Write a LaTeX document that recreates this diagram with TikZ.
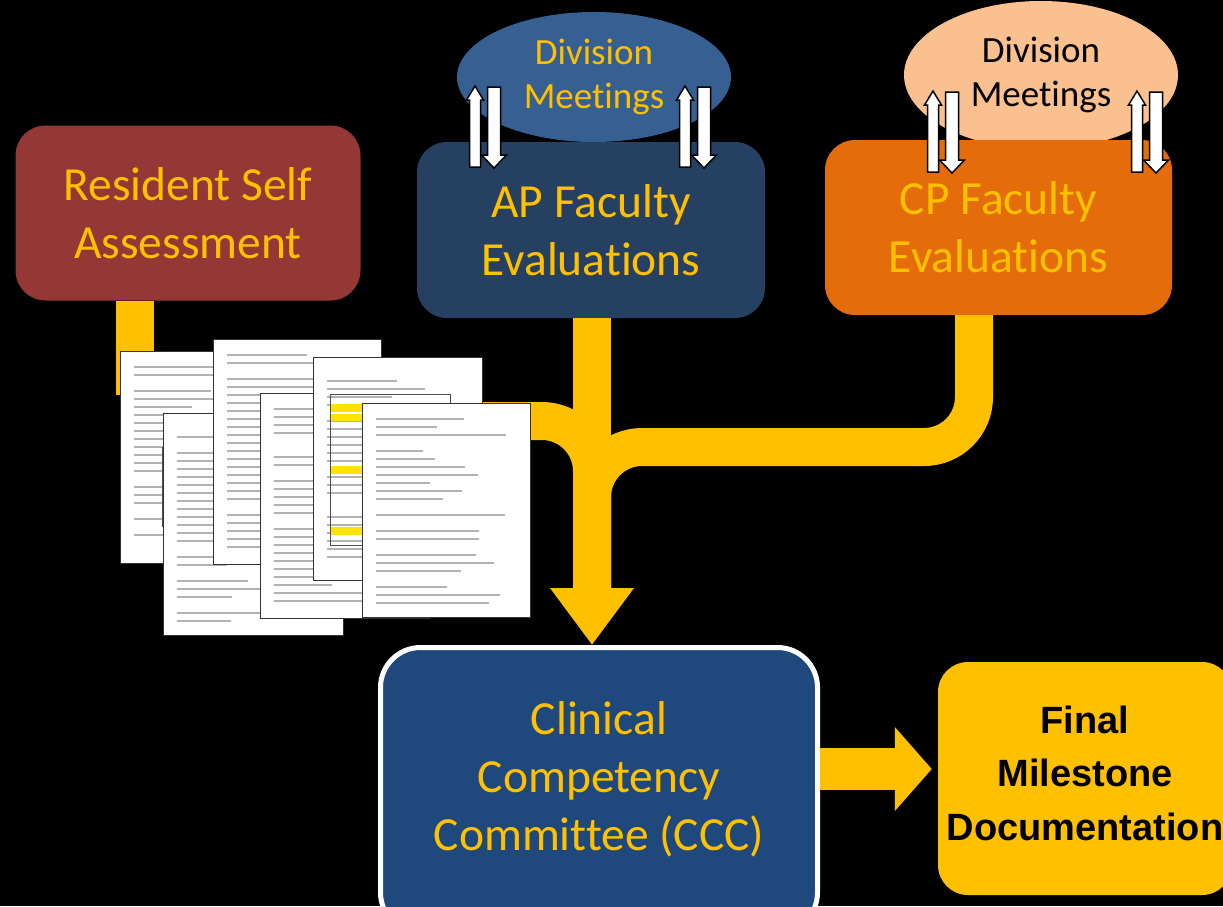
\documentclass[tikz,border=0pt]{standalone}
\usepackage{fontspec}
\setmainfont{Carlito}[Ligatures=NoCommon]
\newfontfamily\finalfont{Liberation Sans}
\usepackage{xcolor}
\usetikzlibrary{shapes,positioning,calc,arrows.meta}

\definecolor{resred}{RGB}{149,55,53}
\definecolor{apnavy}{RGB}{38,64,97}
\definecolor{apmeetblue}{RGB}{54,96,146}
\definecolor{cporange}{RGB}{228,108,10}
\definecolor{cppeach}{RGB}{250,192,144}
\definecolor{cccblue}{RGB}{31,73,125}
\definecolor{gold}{RGB}{255,192,0}

\begin{document}
\begin{tikzpicture}[x=1pt,y=-1pt]
\tikzset{
	box/.style={rounded corners=30pt, inner sep=0pt, align=center, text=gold,
		font=\fontsize{47.5}{58}\selectfont},
	meet/.style={ellipse, inner sep=0pt, align=center,
		font=\fontsize{37}{44}\selectfont},
	flow/.style={draw=gold, line width=38pt, rounded corners=50pt},
	updown/.style={fill=white, draw=black, line width=1.5pt},
	docline/.style={draw=gray!60, line width=1.4pt},
}

\tikzset{
	meetarrows/.pic={
		% up
		\draw[updown] (0,0) -- (8.5,14) -- (5.5,14) -- (5.5,81)
			-- (-5.5,81) -- (-5.5,14) -- (-8.5,14) -- cycle;
		% down
		\draw[updown] (12.5,1) -- (25.5,1) -- (25.5,69) -- (31.5,69)
			-- (19,82) -- (6.5,69) -- (12.5,69) -- cycle;
	}
}

\tikzset{
	pics/docpage/.style n args={3}{
		code={
			\draw[fill=white, draw=black!80, line width=0.8pt] (0,0) rectangle (#1,#2);
			\pgfmathsetseed{#3}
			\pgfmathtruncatemacro\lastline{#2-14}
			%lines of text
			\foreach \ly in {16,24,...,\lastline}{
				\pgfmathsetmacro\lw{rnd<0.18 ? 0 : (0.3+0.65*rnd)*(#1-26)}
				\draw[docline] (14,\ly) -- ++(\lw,0);
			}
		}% code
	}% pic style
}%tikzset

% background
\clip (0,0) rectangle (1223,906);
\fill[black] (0,0) rectangle (1223,906);

% meetings
\node[meet, fill=apmeetblue, text=gold, minimum width=274pt, minimum height=130pt] (apmeet) at (594,77) {Division\\Meetings};
\node[meet, fill=cppeach, text=black, minimum width=274pt, minimum height=148pt] (cpmeet) at (1041,75) {Division\\Meetings};

% evaluations
\node[box, fill=resred, minimum width=345pt, minimum height=175pt] (res) at (188,213) {Resident Self\\Assessment};
\node[box, fill=apnavy, minimum width=348pt, minimum height=176pt] (ap) at (591,230) {AP Faculty\\Evaluations};
\node[box, fill=cporange, minimum width=347pt, minimum height=175pt] (cp) at (998.5,227.5) {CP Faculty\\Evaluations};

\pic at (475,86) {meetarrows};
\pic at (685,86) {meetarrows};
\pic at (933,91) {meetarrows};
\pic at (1137,91) {meetarrows};

% ccc
\node[rounded corners=40pt, fill=cccblue, draw=white, line width=5pt, minimum width=437pt, minimum height=285pt, inner sep=0pt] (ccc) at (599,790) {};
\node[box] (ccctext) at (599,779) {Clinical\\Competency\\Committee (CCC)};

\node[rounded corners=30pt, fill=gold, inner sep=0pt, align=center, minimum width=294pt, minimum height=233pt,
	font=\finalfont\bfseries\fontsize{38}{53.5}\selectfont] (final) at (1085,778.5) {};
\node[font=\finalfont\bfseries\fontsize{38}{53.5}\selectfont, align=center, inner sep=0pt] (finaltext) at (1085,773) {Final\\Milestone\\Documentation};

% links
\coordinate (arrowbase) at (592,590);
\coordinate (resdrop) at (135,395);
\coordinate (docsout) at (450,421);
\coordinate (cpdrop) at (974,447);
\coordinate (arrowy) at (0,769);

\draw[flow] (res.south -| resdrop) -- (resdrop);
\draw[flow] (docsout) -| (arrowbase);
\draw[flow] (cp.south -| cpdrop) -- (cpdrop) -| (arrowbase);
\draw[flow, -{Triangle[length=57pt,width=80pt]}] (ap.south -| arrowbase) -- (ccc.north -| arrowbase);

\draw[draw=gold, line width=42pt, -{Triangle[length=37pt,width=82pt]}, shorten >=6pt] (ccc.east |- arrowy) -- (final.west |- arrowy);

% scanned forms
\pic at (120,351) {docpage={165}{212}{11}};
\draw[black!70, line width=0.6pt] (146,447) grid[xstep=18,ystep=8] (182,527);
\pic at (163,413) {docpage={180}{222}{23}};
\pic at (213,339) {docpage={168}{225}{37}};
\pic at (260,393) {docpage={170}{225}{41}};
\pic at (313,357) {docpage={169}{223}{59}};
\fill[yellow!85!orange] (330,404) rectangle (450,412);
\fill[yellow!85!orange] (330,414) rectangle (450,421);
\fill[yellow!85!orange] (330,466) rectangle (450,474);
\fill[yellow!85!orange] (330,527) rectangle (450,535);
\draw[black!70, line width=0.6pt] (330,394) rectangle (450,545);
\pic at (362,403) {docpage={168}{214}{71}};

\end{tikzpicture}
\end{document}
